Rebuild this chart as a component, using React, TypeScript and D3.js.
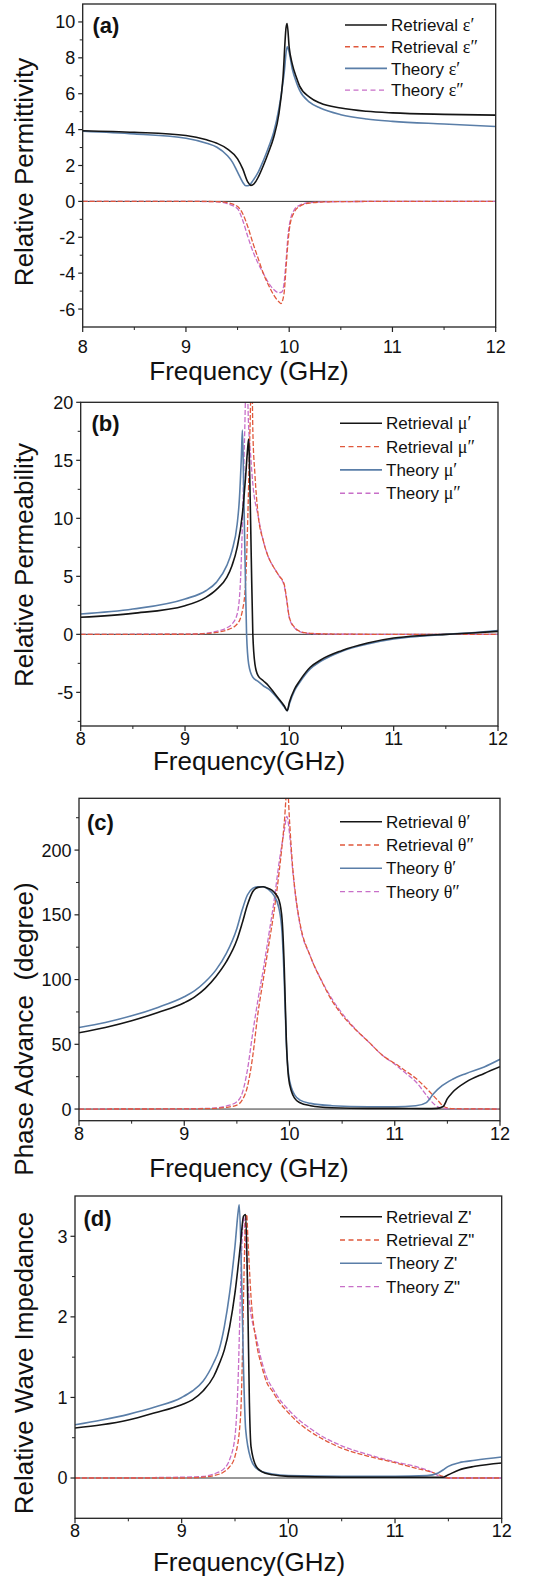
import React from 'react';
import * as d3 from 'd3';

type Pt = [number, number];

const freqTicks = [8, 9, 10, 11, 12];
const freqMinor = [8.5, 9.5, 10.5, 11.5];

// (a) relative permittivity
const epsRetRe: Pt[] = [
  [8, 3.94], [8.5, 3.85], [9, 3.67], [9.2, 3.43], [9.3, 3.24], [9.4, 2.93], [9.5, 2.37],
  [9.55, 1.81], [9.6, 1.07], [9.63, 0.89], [9.66, 0.98], [9.7, 1.35], [9.75, 2.0], [9.8, 2.74],
  [9.85, 3.57], [9.9, 4.87], [9.94, 6.9], [9.97, 9.7], [9.98, 9.91], [10.0, 8.57], [10.03, 7.65],
  [10.07, 6.9], [10.1, 6.44], [10.2, 5.8], [10.3, 5.48], [10.5, 5.2], [10.75, 5.02], [11, 4.93],
  [11.5, 4.85], [12, 4.81],
];
const epsRetIm: Pt[] = [
  [8, 0], [9, 0], [9.3, -0.01], [9.4, -0.07], [9.5, -0.28], [9.55, -0.69], [9.6, -1.43],
  [9.65, -2.35], [9.7, -3.19], [9.75, -4.02], [9.8, -4.67], [9.85, -5.22], [9.9, -5.59],
  [9.92, -5.69], [9.95, -5.13], [9.97, -3.65], [9.99, -2.17], [10.01, -1.24], [10.05, -0.59],
  [10.1, -0.28], [10.2, -0.09], [10.4, -0.02], [11, 0], [12, 0],
];
const epsThRe: Pt[] = [
  [8, 3.91], [8.5, 3.76], [9, 3.52], [9.2, 3.24], [9.3, 3.02], [9.4, 2.56], [9.45, 2.19],
  [9.5, 1.63], [9.55, 1.07], [9.58, 0.87], [9.61, 0.89], [9.65, 1.17], [9.7, 1.63], [9.75, 2.28],
  [9.8, 3.02], [9.85, 3.85], [9.9, 5.15], [9.95, 7.09], [9.98, 8.61], [10.0, 8.3], [10.03, 7.37],
  [10.07, 6.63], [10.1, 6.2], [10.2, 5.52], [10.3, 5.2], [10.5, 4.83], [10.75, 4.59], [11, 4.46],
  [11.5, 4.31], [12, 4.17],
];
const epsThIm: Pt[] = [
  [8, 0], [9, 0], [9.3, -0.02], [9.4, -0.13], [9.5, -0.41], [9.55, -1.06], [9.6, -1.98],
  [9.65, -2.81], [9.7, -3.46], [9.75, -4.02], [9.8, -4.54], [9.85, -4.91], [9.9, -5.09],
  [9.93, -5.04], [9.95, -4.57], [9.97, -3.28], [9.99, -1.8], [10.01, -1.06], [10.05, -0.46],
  [10.1, -0.22], [10.2, -0.07], [10.4, -0.02], [11, 0], [12, 0],
];

// (b) relative permeability
const muRetRe: Pt[] = [
  [8, 1.47], [8.5, 1.81], [9, 2.47], [9.2, 3.19], [9.3, 3.85], [9.4, 4.91], [9.45, 5.92],
  [9.5, 7.5], [9.55, 10.37], [9.58, 13.5], [9.6, 15.98], [9.61, 16.84], [9.62, 13.8],
  [9.635, 6.6], [9.65, 0], [9.67, -2.56], [9.7, -3.56], [9.75, -4.0], [9.8, -4.43], [9.85, -5.0],
  [9.9, -5.57], [9.95, -6.15], [9.98, -6.58], [10.0, -5.86], [10.05, -4.71], [10.1, -3.99],
  [10.2, -2.84], [10.3, -2.21], [10.5, -1.41], [10.75, -0.75], [11, -0.32], [11.25, -0.11],
  [11.5, 0], [11.75, 0.11], [12, 0.26],
];
const muRetIm: Pt[] = [
  [8, 0], [9, 0.01], [9.2, 0.06], [9.3, 0.17], [9.4, 0.37], [9.5, 0.89], [9.55, 2.04],
  [9.58, 4.34], [9.6, 9.5], [9.62, 16.7], [9.64, 23], [9.65, 17.56], [9.67, 13.8], [9.7, 10.37],
  [9.75, 8.07], [9.8, 6.64], [9.85, 5.78], [9.9, 5.06], [9.95, 4.34], [9.97, 3.33], [10.0, 1.47],
  [10.05, 0.6], [10.1, 0.26], [10.2, 0.09], [10.5, 0.02], [11, 0], [12, 0],
];
const muThRe: Pt[] = [
  [8, 1.75], [8.5, 2.18], [9, 3.05], [9.2, 3.76], [9.3, 4.48], [9.4, 5.92], [9.45, 7.21],
  [9.5, 9.51], [9.52, 11.5], [9.54, 15.26], [9.55, 17.6], [9.56, 13.8], [9.575, 6.6],
  [9.59, 0], [9.61, -2.56], [9.65, -3.7], [9.7, -4.05], [9.75, -4.43], [9.8, -4.71],
  [9.85, -5.14], [9.9, -5.66], [9.95, -6.24], [9.98, -6.58], [10.0, -6.0], [10.05, -4.86],
  [10.1, -4.14], [10.2, -2.99], [10.3, -2.33], [10.5, -1.47], [10.75, -0.83], [11, -0.4],
  [11.25, -0.17], [11.5, 0], [11.75, 0.14], [12, 0.32],
];
const muThIm: Pt[] = [
  [8, 0], [9, 0.02], [9.2, 0.09], [9.3, 0.26], [9.4, 0.55], [9.45, 0.89], [9.5, 1.75],
  [9.53, 4.34], [9.55, 9.5], [9.57, 16.7], [9.59, 23], [9.61, 17.8], [9.63, 15.3], [9.65, 12.96],
  [9.7, 10.23], [9.75, 8.07], [9.8, 6.64], [9.85, 5.78], [9.9, 5.06], [9.95, 4.2], [9.97, 3.19],
  [10.0, 1.41], [10.05, 0.55], [10.1, 0.23], [10.2, 0.06], [10.5, 0.01], [11, 0], [12, 0],
];

// (c) phase advance
const thRetRe: Pt[] = [
  [8, 58.9], [8.25, 63], [8.5, 68.2], [8.75, 74.6], [9, 82.1], [9.1, 86.7], [9.2, 93.2],
  [9.3, 102.2], [9.4, 113.8], [9.5, 130.5], [9.55, 143.4], [9.6, 157.5], [9.65, 167.8],
  [9.7, 171.2], [9.75, 171.7], [9.8, 170.4], [9.85, 167.8], [9.9, 161.4], [9.93, 146],
  [9.95, 110], [9.97, 53.3], [9.99, 25], [10.02, 13.4], [10.05, 8.2], [10.1, 4.9], [10.2, 2.6],
  [10.4, 1.0], [10.75, 0.5], [11, 0.5], [11.3, 0.3], [11.4, 0.5], [11.46, 2], [11.5, 8],
  [11.55, 13], [11.68, 21], [11.85, 27.5], [12, 32.7],
];
const thRetIm: Pt[] = [
  [8, 0], [9, 0.1], [9.2, 0.3], [9.3, 0.5], [9.4, 1.3], [9.5, 3.1], [9.55, 6.9], [9.6, 17.2],
  [9.65, 40.4], [9.7, 73.9], [9.75, 99.6], [9.8, 125.4], [9.85, 151], [9.9, 182], [9.95, 220.6],
  [9.98, 250], [10.0, 223], [10.03, 187], [10.06, 164], [10.1, 143.4], [10.2, 117.6],
  [10.3, 99.6], [10.4, 84.2], [10.5, 72.6], [10.6, 63.6], [10.75, 52], [10.9, 40.4], [11, 35.3],
  [11.1, 29.6], [11.2, 23.7], [11.3, 16], [11.4, 7.5], [11.47, 1.8], [11.55, 0.3], [12, 0],
];
const thThRe: Pt[] = [
  [8, 63], [8.25, 66.9], [8.5, 72], [8.75, 78.5], [9, 86.7], [9.1, 91.4], [9.2, 98.3],
  [9.3, 107.3], [9.4, 120.2], [9.5, 139.5], [9.55, 153.7], [9.6, 165.3], [9.65, 170.4],
  [9.7, 171.7], [9.75, 171.7], [9.8, 169.6], [9.85, 165.3], [9.9, 155], [9.93, 135.6],
  [9.95, 99.6], [9.97, 50.7], [9.99, 27.5], [10.02, 16], [10.05, 10.8], [10.1, 6.9], [10.2, 4.4],
  [10.4, 2.6], [10.75, 1.8], [11, 1.8], [11.2, 2.5], [11.3, 5], [11.37, 12], [11.45, 18],
  [11.55, 23], [11.68, 27.5], [11.85, 32.5], [12, 38.4],
];
const thThIm: Pt[] = [
  [8, 0], [9, 0.2], [9.2, 0.5], [9.3, 0.8], [9.4, 2.3], [9.5, 5.7], [9.55, 12.1], [9.6, 30.1],
  [9.65, 58.4], [9.7, 84.2], [9.75, 107.3], [9.8, 133], [9.85, 158.8], [9.9, 189.7],
  [9.95, 215], [9.975, 226], [10.0, 212.9], [10.03, 184.6], [10.06, 162.7], [10.1, 142],
  [10.2, 117.6], [10.3, 100], [10.4, 85.5], [10.5, 73.9], [10.6, 64.1], [10.75, 52],
  [10.9, 40.4], [11, 34.7], [11.1, 28], [11.2, 21.1], [11.3, 10.8], [11.35, 5.7], [11.42, 1.3],
  [11.5, 0.3], [12, 0],
];

// (d) relative wave impedance
const zRetRe: Pt[] = [
  [8, 0.62], [8.25, 0.66], [8.5, 0.72], [8.75, 0.81], [9, 0.91], [9.1, 0.97], [9.2, 1.08],
  [9.3, 1.26], [9.35, 1.41], [9.4, 1.59], [9.45, 1.88], [9.5, 2.3], [9.55, 2.88], [9.58, 3.25],
  [9.6, 3.27], [9.62, 2.17], [9.635, 0.93], [9.65, 0.39], [9.7, 0.14], [9.75, 0.08],
  [9.85, 0.04], [10, 0.02], [10.5, 0.01], [11, 0.01], [11.45, 0.01], [11.5, 0.04], [11.6, 0.1],
  [11.75, 0.145], [12, 0.186],
];
const zRetIm: Pt[] = [
  [8, 0], [9, 0], [9.2, 0.01], [9.3, 0.03], [9.4, 0.08], [9.45, 0.14], [9.5, 0.27], [9.55, 0.72],
  [9.57, 1.55], [9.58, 2.25], [9.6, 3.2], [9.61, 3.27], [9.62, 3.0], [9.65, 2.25], [9.7, 1.68],
  [9.75, 1.39], [9.8, 1.18], [9.85, 1.08], [9.9, 0.97], [10, 0.81], [10.1, 0.68], [10.2, 0.58],
  [10.3, 0.5], [10.5, 0.37], [10.75, 0.27], [11, 0.19], [11.2, 0.12], [11.35, 0.07],
  [11.45, 0.02], [11.5, 0], [12, 0],
];
const zThRe: Pt[] = [
  [8, 0.66], [8.25, 0.72], [8.5, 0.79], [8.75, 0.88], [9, 1.0], [9.1, 1.08], [9.2, 1.2],
  [9.3, 1.43], [9.35, 1.59], [9.4, 1.88], [9.45, 2.3], [9.5, 2.88], [9.53, 3.31], [9.54, 3.39],
  [9.56, 2.59], [9.58, 1.34], [9.6, 0.6], [9.65, 0.23], [9.7, 0.12], [9.75, 0.08], [9.85, 0.05],
  [10, 0.03], [10.5, 0.02], [11, 0.02], [11.3, 0.03], [11.4, 0.06], [11.45, 0.1], [11.5, 0.145],
  [11.6, 0.19], [11.75, 0.22], [12, 0.26],
];
const zThIm: Pt[] = [
  [8, 0], [9, 0.01], [9.2, 0.02], [9.3, 0.05], [9.4, 0.12], [9.45, 0.23], [9.5, 0.52],
  [9.53, 1.26], [9.55, 2.25], [9.57, 3.08], [9.58, 3.25], [9.6, 2.92], [9.63, 2.25], [9.7, 1.74],
  [9.75, 1.45], [9.8, 1.24], [9.85, 1.12], [9.9, 1.01], [10, 0.85], [10.1, 0.72], [10.2, 0.62],
  [10.3, 0.53], [10.5, 0.4], [10.75, 0.29], [11, 0.2], [11.2, 0.14], [11.35, 0.07],
  [11.42, 0.02], [11.5, 0], [12, 0],
];

const C_RET_RE = '#151515';
const C_RET_IM = '#e0583c';
const C_TH_RE = '#5a7ea8';
const C_TH_IM = '#c86fc8';
const SANS = 'Liberation Sans, Arial, Helvetica, sans-serif';
const SERIF = 'Liberation Serif, Times New Roman, serif';

interface PanelCfg {
  id: string;
  tag: string;
  left: number; right: number; top: number; bottom: number;
  yDomain: [number, number];
  yTicks: number[];
  yMinor: number[];
  yTitle: string;
  yTitleCy: number;
  xTitle: string;
  xLabelY: number;
  xTitleY: number;
  tagX: number; tagY: number;
  legX: number; legY: number; legGap: number;
  sym: string; re: string; im: string; symSerif: boolean;
  series: { retRe: Pt[]; retIm: Pt[]; thRe: Pt[]; thIm: Pt[] };
}

function Panel({ cfg }: { cfg: PanelCfg }) {
  const x = d3.scaleLinear().domain([8, 12]).range([cfg.left, cfg.right]);
  const y = d3.scaleLinear().domain(cfg.yDomain).range([cfg.bottom, cfg.top]);
  const line = d3
    .line<Pt>()
    .x((d) => x(d[0]))
    .y((d) => y(d[1]))
    .curve(d3.curveMonotoneX);
  const clip = `clip-${cfg.id}`;
  const legend = [
    { name: 'Retrieval ', suf: cfg.re, color: C_RET_RE, dash: undefined as string | undefined, w: 1.6 },
    { name: 'Retrieval ', suf: cfg.im, color: C_RET_IM, dash: '5,3.5', w: 1.4 },
    { name: 'Theory ', suf: cfg.re, color: C_TH_RE, dash: undefined, w: 1.6 },
    { name: 'Theory ', suf: cfg.im, color: C_TH_IM, dash: '5,3.5', w: 1.4 },
  ];
  const s = cfg.series;
  return (
    <g>
      <defs>
        <clipPath id={clip}>
          <rect x={cfg.left} y={cfg.top} width={cfg.right - cfg.left} height={cfg.bottom - cfg.top} />
        </clipPath>
      </defs>
      <g clipPath={`url(#${clip})`} fill="none">
        <line x1={x(8)} x2={x(12)} y1={y(0)} y2={y(0)} stroke="#333" strokeWidth={1} />
        <path d={line(s.thIm) || ''} stroke={C_TH_IM} strokeWidth={1.3} strokeDasharray="5,2" />
        <path d={line(s.retIm) || ''} stroke={C_RET_IM} strokeWidth={1.3} strokeDasharray="5,2" />
        <path d={line(s.thRe) || ''} stroke={C_TH_RE} strokeWidth={1.6} />
        <path d={line(s.retRe) || ''} stroke={C_RET_RE} strokeWidth={1.6} />
      </g>
      <rect
        x={cfg.left}
        y={cfg.top}
        width={cfg.right - cfg.left}
        height={cfg.bottom - cfg.top}
        fill="none"
        stroke="#222"
        strokeWidth={1.3}
      />
      {freqTicks.map((t) => (
        <g key={`xt${t}`}>
          <line x1={x(t)} x2={x(t)} y1={cfg.bottom} y2={cfg.bottom + 5} stroke="#222" strokeWidth={1.2} />
          <text x={x(t)} y={cfg.xLabelY} fontSize={18} fontFamily={SANS} textAnchor="middle" fill="#111">
            {t}
          </text>
        </g>
      ))}
      {freqMinor.map((t) => (
        <line key={`xm${t}`} x1={x(t)} x2={x(t)} y1={cfg.bottom} y2={cfg.bottom + 3} stroke="#222" strokeWidth={1} />
      ))}
      {cfg.yTicks.map((t) => (
        <g key={`yt${t}`}>
          <line x1={cfg.left - 4.5} x2={cfg.left} y1={y(t)} y2={y(t)} stroke="#222" strokeWidth={1.2} />
          <text
            x={cfg.left - 7.5}
            y={y(t)}
            dy="0.36em"
            fontSize={18}
            fontFamily={SANS}
            textAnchor="end"
            fill="#111"
          >
            {t}
          </text>
        </g>
      ))}
      {cfg.yMinor.map((t) => (
        <line key={`ym${t}`} x1={cfg.left - 3} x2={cfg.left} y1={y(t)} y2={y(t)} stroke="#222" strokeWidth={1} />
      ))}
      <text
        transform={`translate(33,${cfg.yTitleCy}) rotate(-90)`}
        fontSize={26}
        fontFamily={SANS}
        textAnchor="middle"
        fill="#111"
        style={{ whiteSpace: 'pre' }}
      >
        {cfg.yTitle}
      </text>
      <text x={249} y={cfg.xTitleY} fontSize={26} fontFamily={SANS} textAnchor="middle" fill="#111">
        {cfg.xTitle}
      </text>
      <text x={cfg.tagX} y={cfg.tagY} fontSize={22} fontWeight="bold" fontFamily={SANS} fill="#111">
        {cfg.tag}
      </text>
      {legend.map((l, i) => {
        const ly = cfg.legY + i * cfg.legGap;
        return (
          <g key={`lg${i}`}>
            <line
              x1={cfg.legX}
              x2={cfg.legX + 42}
              y1={ly}
              y2={ly}
              stroke={l.color}
              strokeWidth={l.w}
              strokeDasharray={l.dash}
            />
            <text x={cfg.legX + 46} y={ly} dy="0.36em" fontSize={17} fontFamily={SANS} fill="#111">
              {l.name}
              <tspan fontFamily={cfg.symSerif ? SERIF : SANS} fontSize={cfg.symSerif ? 18 : 17}>
                {cfg.sym}
                {l.suf}
              </tspan>
            </text>
          </g>
        );
      })}
    </g>
  );
}

const panels: PanelCfg[] = [
  {
    id: 'a', tag: '(a)', left: 82.7, right: 495.7, top: 4, bottom: 327,
    yDomain: [-7, 11], yTicks: [-6, -4, -2, 0, 2, 4, 6, 8, 10], yMinor: [-5, -3, -1, 1, 3, 5, 7, 9],
    yTitle: 'Relative Permittivity', yTitleCy: 172, xTitle: 'Frequency (GHz)', xLabelY: 353, xTitleY: 380,
    tagX: 92.5, tagY: 33, legX: 345, legY: 25, legGap: 21.7,
    sym: 'ε', re: '′', im: '″', symSerif: true,
    series: { retRe: epsRetRe, retIm: epsRetIm, thRe: epsThRe, thIm: epsThIm },
  },
  {
    id: 'b', tag: '(b)', left: 80.7, right: 498, top: 402.3, bottom: 726,
    yDomain: [-7.9, 20], yTicks: [-5, 0, 5, 10, 15, 20], yMinor: [-7.5, -2.5, 2.5, 7.5, 12.5, 17.5],
    yTitle: 'Relative Permeability', yTitleCy: 565, xTitle: 'Frequency(GHz)', xLabelY: 745, xTitleY: 770,
    tagX: 91.5, tagY: 431, legX: 340, legY: 423.3, legGap: 23.3,
    sym: 'μ', re: '′', im: '″', symSerif: true,
    series: { retRe: muRetRe, retIm: muRetIm, thRe: muThRe, thIm: muThIm },
  },
  {
    id: 'c', tag: '(c)', left: 79, right: 500, top: 798.3, bottom: 1120.7,
    yDomain: [-9, 240], yTicks: [0, 50, 100, 150, 200], yMinor: [25, 75, 125, 175, 225],
    yTitle: 'Phase Advance\u00a0 (degree)', yTitleCy: 1029, xTitle: 'Frequency (GHz)', xLabelY: 1140, xTitleY: 1177,
    tagX: 87, tagY: 830, legX: 340, legY: 821.7, legGap: 23.3,
    sym: 'θ', re: '′', im: '″', symSerif: true,
    series: { retRe: thRetRe, retIm: thRetIm, thRe: thThRe, thIm: thThIm },
  },
  {
    id: 'd', tag: '(d)', left: 75, right: 501.7, top: 1196, bottom: 1518.3,
    yDomain: [-0.5, 3.5], yTicks: [0, 1, 2, 3], yMinor: [0.5, 1.5, 2.5],
    yTitle: 'Relative Wave Impedance', yTitleCy: 1363, xTitle: 'Frequency(GHz)', xLabelY: 1537, xTitleY: 1571,
    tagX: 83.5, tagY: 1226, legX: 340, legY: 1216.7, legGap: 23.3,
    sym: 'Z', re: "'", im: '"', symSerif: false,
    series: { retRe: zRetRe, retIm: zRetIm, thRe: zThRe, thIm: zThIm },
  },
];

export default function App() {
  return (
    <svg
      width={538}
      height={1578}
      viewBox="0 0 538 1578"
      style={{ position: 'absolute', left: 0, top: 0, background: '#fff' }}
    >
      <rect x={0} y={0} width={538} height={1578} fill="#fff" />
      {panels.map((p) => (
        <Panel key={p.id} cfg={p} />
      ))}
    </svg>
  );
}
